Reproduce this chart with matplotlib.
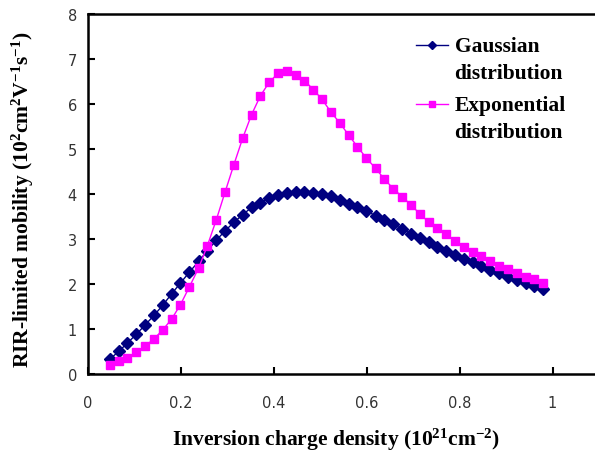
import matplotlib
matplotlib.use('Agg')
import matplotlib.pyplot as plt

# inversion charge density (1e21 cm^-2)
charge = [0.047, 0.066, 0.085, 0.104, 0.123, 0.142, 0.161, 0.180, 0.199, 0.218,
          0.238, 0.257, 0.276, 0.295, 0.314, 0.333, 0.352, 0.371, 0.390, 0.409,
          0.428, 0.447, 0.466, 0.485, 0.504, 0.523, 0.542, 0.561, 0.580, 0.599,
          0.619, 0.638, 0.657, 0.676, 0.695, 0.714, 0.733, 0.752, 0.771, 0.790,
          0.809, 0.828, 0.847, 0.866, 0.885, 0.904, 0.923, 0.942, 0.961, 0.980]

# RIR-limited mobility (1e2 cm^2/Vs)
gaussian = [0.33, 0.50, 0.69, 0.88, 1.09, 1.30, 1.53, 1.78, 2.02, 2.26,
            2.50, 2.74, 2.97, 3.18, 3.37, 3.54, 3.70, 3.80, 3.91, 3.98,
            4.02, 4.04, 4.05, 4.03, 4.00, 3.95, 3.86, 3.78, 3.70, 3.62,
            3.52, 3.43, 3.33, 3.22, 3.12, 3.02, 2.93, 2.83, 2.74, 2.65,
            2.56, 2.48, 2.40, 2.32, 2.24, 2.16, 2.09, 2.02, 1.95, 1.88]
exponential = [0.20, 0.28, 0.35, 0.48, 0.62, 0.78, 0.98, 1.22, 1.54, 1.93,
               2.35, 2.85, 3.42, 4.04, 4.65, 5.24, 5.76, 6.18, 6.48, 6.68,
               6.73, 6.65, 6.52, 6.32, 6.10, 5.82, 5.58, 5.31, 5.05, 4.80,
               4.57, 4.33, 4.12, 3.94, 3.76, 3.56, 3.38, 3.24, 3.10, 2.96,
               2.83, 2.72, 2.62, 2.52, 2.41, 2.33, 2.24, 2.15, 2.10, 2.02]

x_ticks = [0, 0.2, 0.4, 0.6, 0.8, 1]
x_tick_labels = ['0', '0.2', '0.4', '0.6', '0.8', '1']
y_ticks = [0, 1, 2, 3, 4, 5, 6, 7, 8]

plt.rcParams['mathtext.default'] = 'regular'
serif_bold = dict(family='Liberation Serif', weight='bold', size=15.5)

fig = plt.figure(figsize=(5.95, 4.52), dpi=100)
ax = fig.add_axes([0.1479, 0.1704, 0.8588, 0.7965])

ax.plot(charge, gaussian, color='#000080', lw=1, marker='D', ms=5.8,
        label='Gaussian\ndistribution')
ax.plot(charge, exponential, color='#FF00FF', lw=1, marker='s', ms=5.5,
        label='Exponential\ndistribution')

ax.set_xlim(0, 1.1)
ax.set_ylim(0, 8)
ax.set_xticks(x_ticks)
ax.set_xticklabels(x_tick_labels)
ax.set_yticks(y_ticks)
ax.tick_params(direction='in', length=5, width=1.5, labelsize=10.5,
               labelcolor='#333333')
ax.tick_params(axis='x', pad=15)
ax.tick_params(axis='y', pad=8)

for side in ['left', 'bottom', 'top']:
    ax.spines[side].set_linewidth(1.8)
ax.spines['right'].set_visible(False)

ax.set_xlabel(r'Inversion charge density (10$^{21}$cm$^{-2}$)', **serif_bold)
ax.xaxis.set_label_coords(0.485, -0.181)
ax.xaxis.label.set_va('center')
ax.set_ylabel(r'RIR-limited mobility (10$^{2}$cm$^{2}$V$^{-1}$s$^{-1}$)', **serif_bold)
ax.yaxis.set_label_coords(-0.127, 0.486)
ax.yaxis.label.set_va('center')

leg = ax.legend(loc='upper left', bbox_to_anchor=(405 / 595, 1 - 26 / 452),
                bbox_transform=fig.transFigure, frameon=False, borderpad=0,
                handlelength=1.5, handletextpad=0.3, labelspacing=0.6,
                numpoints=1, prop=serif_bold)
for t in leg.get_texts():
    t.set_linespacing(1.45)
# put the legend symbol next to the first line of each label
for h in leg.legend_handles:
    h.set_ydata([v + 10.5 for v in h.get_ydata()])
    h.set_markersize(4.5)

fig.savefig('out.png', dpi=100)
